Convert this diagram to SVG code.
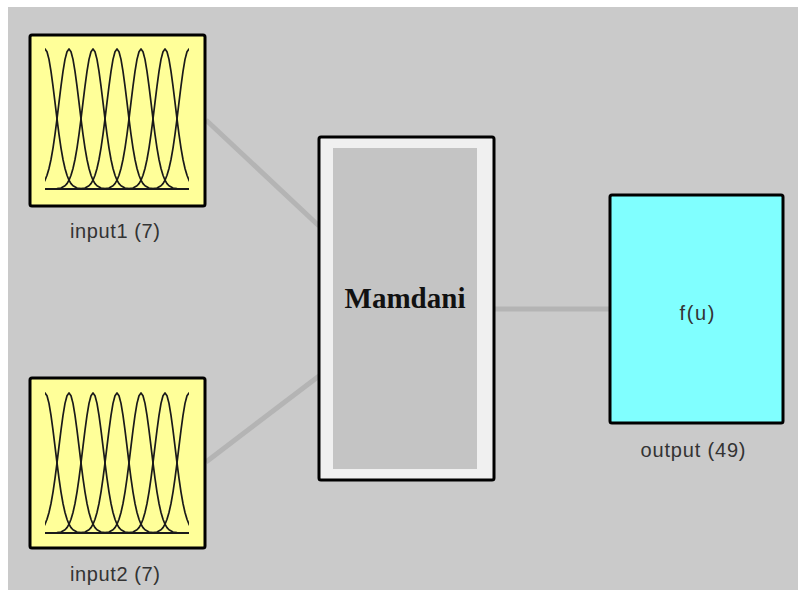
<svg xmlns="http://www.w3.org/2000/svg" xmlns:xlink="http://www.w3.org/1999/xlink" width="798" height="590" viewBox="0 0 798 590">
<style>
.box{stroke:#000;stroke-width:3}
.lbl{font-family:"Liberation Sans",Arial,sans-serif;font-size:20px;fill:#333;text-anchor:middle}
.mf{fill:none;stroke:#1a1a1a;stroke-width:1.7;stroke-linejoin:round}
.conn{stroke:#b4b4b4;stroke-width:5;stroke-linecap:butt}
</style>
<defs>
<polyline id="g" class="mf" points="-40,0 -36,-0.3 -32,-1 -28,-3.2 -26,-5.4 -24,-8.8 -22,-13.7 -20,-20.5 -18,-29.5 -16,-40.9 -14,-54.6 -12,-70.1 -10,-86.6 -8,-102.9 -6,-117.7 -4,-129.6 -2,-137.3 0,-140 2,-137.3 4,-129.6 6,-117.7 8,-102.9 10,-86.6 12,-70.1 14,-54.6 16,-40.9 18,-29.5 20,-20.5 22,-13.7 24,-8.8 26,-5.4 28,-3.2 32,-1 36,-0.3 40,0"/>
<clipPath id="dom" clipPathUnits="userSpaceOnUse"><rect x="0" y="-146" width="144" height="147"/></clipPath>
<g id="mfplot">
<g clip-path="url(#dom)">
<use xlink:href="#g" x="0"/>
<use xlink:href="#g" x="24"/>
<use xlink:href="#g" x="48"/>
<use xlink:href="#g" x="72"/>
<use xlink:href="#g" x="96"/>
<use xlink:href="#g" x="120"/>
<use xlink:href="#g" x="144"/>
</g>
<line x1="0" y1="0" x2="144" y2="0" stroke="#1a1a1a" stroke-width="2"/>
</g>
</defs>
<rect x="0" y="0" width="798" height="590" fill="#ffffff"/>
<rect x="8" y="7" width="790" height="583" fill="#cacaca"/>
<g id="connectors">
<line class="conn" x1="206" y1="120" x2="319" y2="226"/>
<line class="conn" x1="206" y1="462" x2="319" y2="376"/>
<line class="conn" x1="494" y1="309" x2="610" y2="309" stroke="#b0b0b0"/>
</g>
<g id="input1">
<rect class="box" x="30" y="35" width="175" height="171" rx="2" fill="#ffff99"/>
<g transform="translate(45,189)"><use xlink:href="#mfplot"/></g>
<text class="lbl" x="115" y="238" textLength="90">input1 (7)</text>
</g>
<g id="input2">
<rect class="box" x="30" y="378" width="175" height="170" rx="2" fill="#ffff99"/>
<g transform="translate(45,533)"><use xlink:href="#mfplot"/></g>
<text class="lbl" x="115" y="581" textLength="90">input2 (7)</text>
</g>
<g id="mamdani">
<rect class="box" x="319" y="137" width="175" height="343" rx="2" fill="#f0f0f0"/>
<rect x="333" y="148" width="144" height="321" fill="#c4c4c4"/>
<text x="405" y="308" text-anchor="middle" font-family="'Liberation Serif','Times New Roman',serif" font-weight="bold" font-size="29" fill="#111" textLength="121">Mamdani</text>
</g>
<g id="output">
<rect class="box" x="610" y="195" width="173" height="228" rx="2" fill="#80ffff"/>
<text class="lbl" x="697" y="320" textLength="35">f(u)</text>
<text class="lbl" x="693" y="457" textLength="105">output (49)</text>
</g>
</svg>
